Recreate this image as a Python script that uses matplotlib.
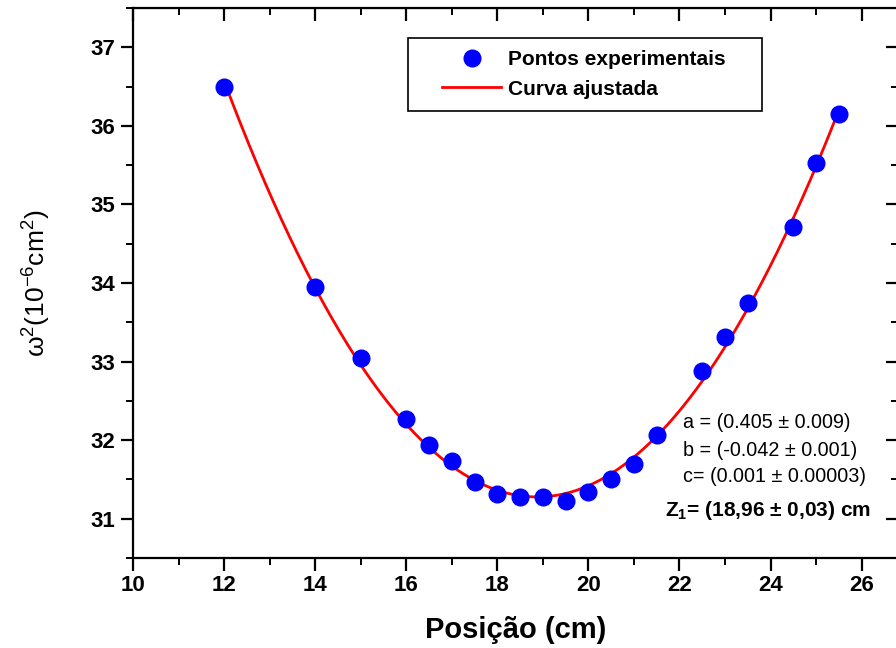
import numpy as np
import matplotlib.pyplot as plt
from matplotlib.ticker import MultipleLocator
from matplotlib.patches import Rectangle

plt.rcParams['font.family'] = ['Liberation Sans', 'DejaVu Sans']
plt.rcParams['mathtext.default'] = 'regular'

# posicao (cm) e omega^2 (10^-6 cm^2)
posicao = [12, 14, 15, 16, 16.5, 17, 17.5, 18, 18.5, 19, 19.5, 20, 20.5,
           21, 21.5, 22.5, 23, 23.5, 24.5, 25, 25.5]
omega2 = [36.50, 33.95, 33.05, 32.27, 31.94, 31.74, 31.47, 31.31, 31.27,
          31.27, 31.23, 31.34, 31.50, 31.70, 32.07, 32.88, 33.31, 33.75,
          34.71, 35.53, 36.15]

param_labels = ['a = (0.405 ± 0.009)', 'b = (-0.042 ± 0.001)', 'c= (0.001 ± 0.00003)']
z1_label = 'Z$_1$= (18,96 ± 0,03) cm'

# curva ajustada (parabola)
coef = np.polyfit(posicao, omega2, 2)
x_fit = np.linspace(min(posicao), max(posicao), 300)
y_fit = np.polyval(coef, x_fit)

W, H = 896, 648
fig = plt.figure(figsize=(W / 100, H / 100), dpi=100)
ax = fig.add_axes([133 / W, 1 - 558 / H, (898 - 133) / W, 550 / H])

ax.plot(posicao, omega2, 'o', color='#0000ff', markersize=12,
        label='Pontos experimentais', zorder=3)
ax.plot(x_fit, y_fit, '-', color='#ff0000', linewidth=2,
        label='Curva ajustada', zorder=2)

ax.set_xlim(10, 26.8)
ax.set_ylim(30.5, 37.5)
ax.xaxis.set_major_locator(MultipleLocator(2))
ax.xaxis.set_minor_locator(MultipleLocator(1))
ax.yaxis.set_major_locator(MultipleLocator(1))
ax.yaxis.set_minor_locator(MultipleLocator(0.5))

ax.tick_params(which='major', direction='out', length=9, width=1.6,
               labelsize=16)
ax.tick_params(which='minor', direction='out', length=5, width=1.4)
for lab in ax.get_xticklabels() + ax.get_yticklabels():
    lab.set_fontweight('bold')
for sp in ax.spines.values():
    sp.set_linewidth(1.6)

# eixos de cima e da direita com ticks para dentro
top = ax.secondary_xaxis('top')
top.xaxis.set_major_locator(MultipleLocator(2))
top.xaxis.set_minor_locator(MultipleLocator(1))
top.tick_params(which='major', direction='in', length=9, width=1.6, labeltop=False)
top.tick_params(which='minor', direction='in', length=5, width=1.4)
right = ax.secondary_yaxis('right')
right.yaxis.set_major_locator(MultipleLocator(1))
right.yaxis.set_minor_locator(MultipleLocator(0.5))
right.tick_params(which='major', direction='in', length=9, width=1.6, labelright=False)
right.tick_params(which='minor', direction='in', length=5, width=1.4)

ax.set_xlabel('Posição (cm)', fontsize=21, fontweight='bold', labelpad=14)
ax.set_ylabel('ω$^2$(10$^{-6}$cm$^2$)', fontsize=19, labelpad=27)

# legenda sem moldura + moldura desenhada a parte (mais larga que alta)
leg = ax.legend(loc='center left', bbox_to_anchor=(432 / W, 1 - 74.5 / H),
                bbox_transform=fig.transFigure,
                prop={'weight': 'bold', 'size': 15}, frameon=False,
                handlelength=2.8, borderpad=0, labelspacing=0.5,
                handletextpad=0.35)
leg.set_zorder(6)
ax.add_patch(Rectangle((408 / W, 1 - 111 / H), 354 / W, 73 / H,
                       transform=fig.transFigure, facecolor='white',
                       edgecolor='black', linewidth=1.2, zorder=5))

for i, s in enumerate(param_labels):
    fig.text(683 / W, 1 - (423 + i * 27) / H, s, fontsize=14.2,
             va='center', ha='left')
fig.text(665 / W, 1 - 510 / H, z1_label, fontsize=15, fontweight='bold',
         va='center', ha='left')

fig.savefig('out.png', dpi=100)
